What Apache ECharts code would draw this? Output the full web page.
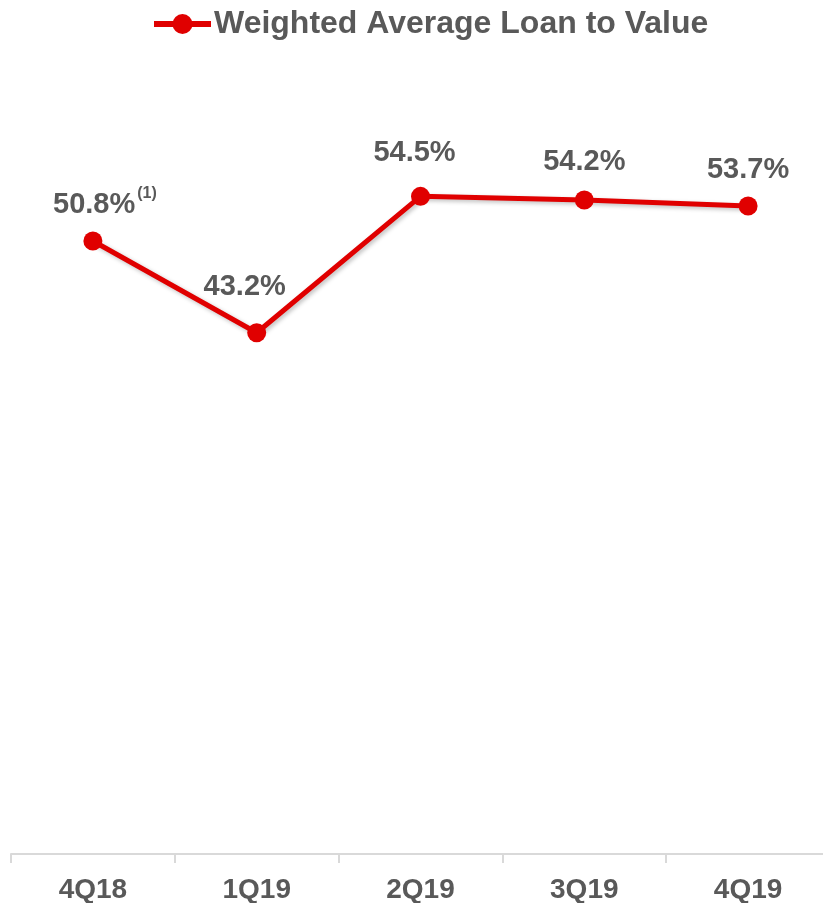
<!DOCTYPE html>
<html><head><meta charset="utf-8">
<script src="https://cdn.jsdelivr.net/npm/echarts@6/dist/echarts.min.js"></script>
<style>html,body{margin:0;padding:0;background:#fff}#c{width:823px;height:903px}</style>
</head><body><div id="c"></div>
<script>
const categories = ['4Q18', '1Q19', '2Q19', '3Q19', '4Q19'];
const values = [50.8, 43.2, 54.5, 54.2, 53.7];
const notes = ['(1)', '', '', '', ''];
const seriesName = 'Weighted Average Loan to Value';

// label placement tweaks (styling, not data)
const labelShift = [[12, 6], [-12, -8], [-6, -5], [0, 0], [0, 2]];

const chart = echarts.init(document.getElementById('c'));
const font = '"Liberation Sans", Arial, sans-serif';
const grey = '#595959';
const red = '#e00000';
chart.setOption({
  animation: false,
  textStyle: { fontFamily: font },
  legend: {
    left: 146, top: 3,
    itemWidth: 57, itemHeight: 25, itemGap: 10,
    lineStyle: { width: 6 },
    textStyle: { fontSize: 32, fontWeight: 'bold', color: grey, fontFamily: font, padding: [0, 0, 0, -2] },
    data: [seriesName]
  },
  grid: { left: 11, width: 819, top: 130, bottom: 49, containLabel: false, outerBoundsMode: 'none' },
  xAxis: {
    type: 'category', data: categories, boundaryGap: true,
    axisLine: { lineStyle: { color: '#d9d9d9', width: 2 } },
    axisTick: { show: true, length: 9, lineStyle: { color: '#d9d9d9', width: 2 } },
    axisLabel: { color: grey, fontSize: 28, fontWeight: 'bold', margin: 22, fontFamily: font }
  },
  yAxis: { type: 'value', min: 0, max: 60, show: false, splitLine: { show: false } },
  series: [{
    name: seriesName, type: 'line', data: values.map((v, i) => ({
      value: v,
      label: { offset: labelShift[i] }
    })),
    symbol: 'circle', symbolSize: 19,
    itemStyle: { color: red },
    lineStyle: { color: red, width: 5, shadowColor: 'rgba(0,0,0,0.25)', shadowBlur: 4, shadowOffsetX: 2, shadowOffsetY: 2 },
    label: {
      show: true, position: 'top', distance: 14,
      formatter: p => '{v|' + p.value.toFixed(1) + '%}' + (notes[p.dataIndex] ? '{s|' + notes[p.dataIndex] + '}' : ''),
      rich: {
        v: { fontSize: 29, fontWeight: 'bold', color: grey, fontFamily: font },
        s: { fontSize: 16, fontWeight: 'bold', color: grey, fontFamily: font, verticalAlign: 'top', padding: [0, 0, 22, 2] }
      }
    }
  }]
});
</script></body></html>
